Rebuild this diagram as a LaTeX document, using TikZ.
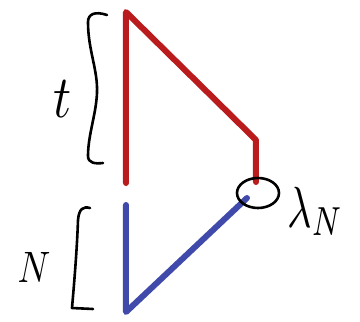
\documentclass[tikz,border=0pt]{standalone}
\begin{document}
\begin{tikzpicture}[x=1pt,y=-1pt,
  redline/.style={draw={rgb,255:red,186;green,28;blue,30}, line width=6pt, line cap=round, line join=round},
  blueline/.style={draw={rgb,255:red,64;green,74;blue,170}, line width=6pt, line cap=round, line join=round},
  ink/.style={draw=black, line width=2.6pt, line cap=round, line join=round},
  lab/.style={inner sep=0pt, text=black}]
\useasboundingbox (0,0) rectangle (360,322);
% points
\coordinate (rtop) at (126,12);
\coordinate (rbot) at (126,183);
\coordinate (rcorner) at (256,140);
\coordinate (rend) at (256,182);
\coordinate (btop) at (126,205);
\coordinate (bcorner) at (126,312);
\coordinate (bend) at (247,198);
% red path
\draw[redline] (rbot) -- (rtop) -- (rcorner) -- (rend);
% blue path
\draw[blueline] (btop) -- (bcorner) -- (bend);
% circle around the meeting point
\draw[ink] (258,193) ellipse [x radius=21, y radius=15];
% braces
\draw[ink] (107,15) .. controls (95,11) and (88,14) .. (88,22)
  .. controls (88,50) and (98,70) .. (97,93)
  .. controls (96,115) and (88,135) .. (88,156)
  .. controls (88,163) and (95,164) .. (103,163);
\draw[ink] (90,208) .. controls (83,206) and (79,209) .. (78,220)
  .. controls (77,250) and (74,285) .. (72,308) -- (93,309);
% labels
\node[lab] (tlab) at (63,99) {\scalebox{5}[6]{$t$}};
\node[lab] (nlab) at (34,267) {\scalebox{3.6}[4.4]{$N$}};
\node[lab, anchor=base west] (lamlab) at (287,227) {\scalebox{4.2}[5.8]{$\lambda_N$}};
\end{tikzpicture}
\end{document}
